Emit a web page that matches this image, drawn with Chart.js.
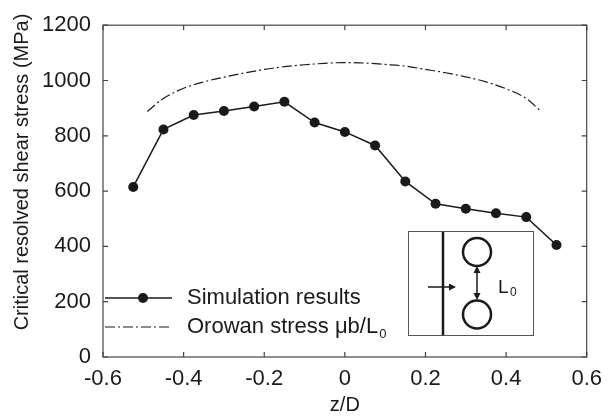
<!DOCTYPE html>
<html>
<head>
<meta charset="utf-8">
<script src="https://cdn.jsdelivr.net/npm/chart.js@4.4.1/dist/chart.umd.min.js"></script>
<style>
  html, body { margin: 0; padding: 0; background: #fff; }
  #wrap { width: 611px; height: 417px; }
</style>
</head>
<body>
<div id="wrap"><canvas id="crssChart"></canvas></div>
<script>
// simulation results (z/D, MPa)
const simZ = [-0.525, -0.45, -0.375, -0.3, -0.225, -0.15, -0.075, 0, 0.075, 0.15, 0.225, 0.3, 0.375, 0.45, 0.525];
const simStress = [615, 823, 875, 890, 906, 923, 848, 814, 765, 635, 554, 536, 520, 506, 405];

// Orowan stress curve
const orowanZ = [-0.49, -0.45, -0.4, -0.35, -0.3, -0.25, -0.2, -0.15, -0.1, -0.05, 0, 0.05, 0.1, 0.15, 0.2, 0.25, 0.3, 0.35, 0.4, 0.45, 0.487];
const orowanStress = [888, 935, 972, 995, 1012, 1027, 1040, 1050, 1057, 1062, 1065, 1063, 1058, 1052, 1040, 1028, 1013, 995, 970, 935, 888];

const legendLabels = ['Simulation results', 'Orowan stress \u03BCb/L'];
const yTitle = 'Critical resolved shear stress (MPa)';
const xTitle = 'z/D';

const FONT = 'Liberation Sans, Arial, Helvetica, sans-serif';
const INK = '#1a1a1a';
const orowanDash = [10, 3, 2, 3];

// frame, inward ticks, legend and the inset sketch
const extras = {
    id: 'extras',
    afterDraw(chart) {
        const ctx = chart.ctx;
        const a = chart.chartArea;
        const xs = chart.scales.x;
        const ys = chart.scales.y;
        ctx.save();

        // box frame
        ctx.strokeStyle = '#444';
        ctx.lineWidth = 1.2;
        ctx.strokeRect(a.left, a.top, a.right - a.left, a.bottom - a.top);

        // inward ticks
        ctx.beginPath();
        xs.ticks.forEach(t => {
            const px = xs.getPixelForValue(t.value);
            ctx.moveTo(px, a.bottom); ctx.lineTo(px, a.bottom - 5);
            ctx.moveTo(px, a.top); ctx.lineTo(px, a.top + 5);
        });
        ys.ticks.forEach(t => {
            const py = ys.getPixelForValue(t.value);
            ctx.moveTo(a.left, py); ctx.lineTo(a.left + 5, py);
            ctx.moveTo(a.right, py); ctx.lineTo(a.right - 5, py);
        });
        ctx.stroke();

        // y title
        ctx.fillStyle = INK;
        ctx.font = '20px ' + FONT;
        ctx.textAlign = 'center';
        ctx.textBaseline = 'middle';
        ctx.translate(22, 172);
        ctx.rotate(-Math.PI / 2);
        ctx.fillText(yTitle, 0, 0);
        ctx.setTransform(1, 0, 0, 1, 0, 0);

        // legend
        ctx.strokeStyle = INK;
        ctx.lineWidth = 1.5;
        ctx.beginPath();
        ctx.moveTo(105, 298); ctx.lineTo(172, 298);
        ctx.stroke();
        ctx.beginPath();
        ctx.arc(143, 298, 5, 0, Math.PI * 2);
        ctx.fill();
        ctx.lineWidth = 1.2;
        ctx.setLineDash(orowanDash);
        ctx.beginPath();
        ctx.moveTo(105, 327); ctx.lineTo(172, 327);
        ctx.stroke();
        ctx.setLineDash([]);

        ctx.font = '22px ' + FONT;
        ctx.textAlign = 'left';
        ctx.fillText(legendLabels[0], 187, 298);
        ctx.fillText(legendLabels[1], 187, 327);
        const w = ctx.measureText(legendLabels[1]).width;
        ctx.font = '13px ' + FONT;
        ctx.fillText('0', 187 + w + 1, 334);

        // inset sketch
        ctx.strokeStyle = '#555';
        ctx.lineWidth = 1;
        ctx.fillStyle = '#fff';
        ctx.fillRect(408, 231, 125, 104);
        ctx.strokeRect(408.5, 231.5, 125, 104);
        ctx.strokeStyle = INK;
        ctx.fillStyle = INK;
        ctx.lineWidth = 2.5;
        ctx.beginPath();
        ctx.moveTo(443, 232); ctx.lineTo(443, 335);
        ctx.stroke();
        ctx.beginPath();
        ctx.arc(477, 252, 14, 0, Math.PI * 2);
        ctx.stroke();
        ctx.beginPath();
        ctx.arc(477, 314.5, 14, 0, Math.PI * 2);
        ctx.stroke();
        ctx.lineWidth = 1.5;
        ctx.beginPath();
        ctx.moveTo(428, 287); ctx.lineTo(450, 287);
        ctx.moveTo(477, 271); ctx.lineTo(477, 296);
        ctx.stroke();
        ctx.beginPath();
        ctx.moveTo(456, 287); ctx.lineTo(449, 283.5); ctx.lineTo(449, 290.5); ctx.closePath();
        ctx.moveTo(477, 266); ctx.lineTo(473.5, 273); ctx.lineTo(480.5, 273); ctx.closePath();
        ctx.moveTo(477, 300); ctx.lineTo(473.5, 293); ctx.lineTo(480.5, 293); ctx.closePath();
        ctx.fill();
        ctx.font = '19px ' + FONT;
        ctx.textBaseline = 'alphabetic';
        ctx.fillText('L', 498, 293);
        ctx.font = '12px ' + FONT;
        ctx.fillText('0', 510, 296);

        ctx.restore();
    }
};

function createCrssChart() {
    const ctx = document.getElementById('crssChart').getContext('2d');
    new Chart(ctx, {
        type: 'line',
        data: {
            datasets: [{
                label: legendLabels[0],
                data: simZ.map((z, i) => ({ x: z, y: simStress[i] })),
                borderColor: INK,
                backgroundColor: INK,
                borderWidth: 1.5,
                pointRadius: 5,
                pointBackgroundColor: INK,
                pointBorderWidth: 0,
                tension: 0,
            }, {
                label: legendLabels[1],
                data: orowanZ.map((z, i) => ({ x: z, y: orowanStress[i] })),
                borderColor: INK,
                borderWidth: 1.2,
                borderDash: orowanDash,
                pointRadius: 0,
                cubicInterpolationMode: 'monotone',
            }],
        },
        options: {
            responsive: true,
            maintainAspectRatio: false,
            animation: false,
            layout: {
                padding: { top: 16, right: 21, left: 0, bottom: 0 },
            },
            plugins: {
                legend: { display: false },
                tooltip: { enabled: false },
            },
            scales: {
                x: {
                    type: 'linear',
                    min: -0.6,
                    max: 0.6,
                    grid: { drawOnChartArea: false, drawTicks: false },
                    border: { display: false },
                    ticks: {
                        stepSize: 0.2,
                        padding: 9,
                        color: INK,
                        font: { family: FONT, size: 22 },
                        maxRotation: 0,
                        callback: v => Math.abs(v) < 1e-9 ? '0' : v.toFixed(1),
                    },
                    title: {
                        display: true,
                        text: xTitle,
                        color: INK,
                        font: { family: FONT, size: 20 },
                        padding: { top: 0, bottom: 0 },
                    },
                    afterFit: s => { s.height = 60; },
                },
                y: {
                    min: 0,
                    max: 1200,
                    grid: { drawOnChartArea: false, drawTicks: false },
                    border: { display: false },
                    ticks: {
                        stepSize: 200,
                        padding: 12,
                        color: INK,
                        font: { family: FONT, size: 22 },
                        callback: v => String(v),
                    },
                    afterFit: s => { s.width = 103; },
                },
            },
        },
        plugins: [extras],
    });
}

document.addEventListener('DOMContentLoaded', () => {
    createCrssChart();
});
</script>
</body>
</html>
